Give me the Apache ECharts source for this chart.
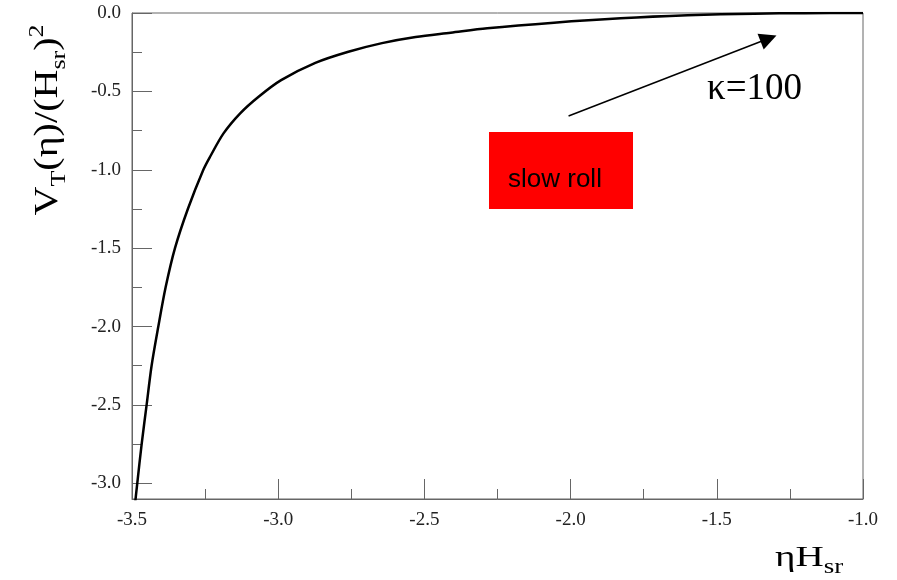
<!DOCTYPE html>
<html>
<head>
<meta charset="utf-8">
<script src="https://cdn.jsdelivr.net/npm/echarts@6/dist/echarts.min.js"></script>
<style>
  html, body { margin: 0; padding: 0; background: #fff; }
  #main { width: 897px; height: 580px; }
</style>
</head>
<body>
<div id="main"></div>
<script>
// curve
var etaH = [-3.489, -3.482, -3.467, -3.450, -3.433, -3.410, -3.385, -3.353, -3.309, -3.256, -3.233, -3.187, -3.130, -3.067, -2.990, -2.873, -2.760, -2.645, -2.530, -2.410, -2.285, -2.057, -1.829, -1.600, -1.372, -1.200, -1.000];
var vT = [-3.120, -3.000, -2.750, -2.500, -2.250, -2.000, -1.750, -1.500, -1.250, -1.000, -0.917, -0.768, -0.640, -0.534, -0.428, -0.318, -0.247, -0.192, -0.153, -0.126, -0.098, -0.062, -0.034, -0.015, -0.004, -0.001, 0.0];
var yMajor = [-3.0, -2.5, -2.0, -1.5, -1.0, -0.5, 0.0];
var yMinor = [-2.75, -2.25, -1.75, -1.25, -0.75, -0.25];
var arrowFrom = [-2.007, -0.657];
var arrowTo = [-1.323, -0.163];

var myChart = echarts.init(document.getElementById('main'));
var serif = '"Liberation Serif", "Times New Roman", serif';

var pts = [];
for (var i = 0; i < etaH.length; i++) pts.push([etaH[i], vT[i]]);

option = {
    animation: false,
    grid: {
        left: 132, right: 34, top: 13, bottom: 81,
        show: true, borderColor: '#666', borderWidth: 1
    },
    xAxis: {
        type: 'value',
        min: -3.5, max: -1.0, interval: 0.5,
        axisLine: { onZero: false, lineStyle: { color: '#666', width: 1 } },
        axisTick: { inside: true, length: 20, lineStyle: { color: '#666' } },
        minorTick: { show: true, splitNumber: 2, length: 10, lineStyle: { color: '#666' } },
        splitLine: { show: false },
        axisLabel: {
            margin: 12, color: '#222', fontFamily: serif, fontSize: 19,
            formatter: function (v) { return v.toFixed(1); }
        }
    },
    yAxis: [
        {
            type: 'value',
            min: -3.1, max: 0,
            axisLine: { show: true, onZero: false, lineStyle: { color: '#666', width: 1 } },
            axisTick: { show: true, inside: true, length: 20, customValues: yMajor, lineStyle: { color: '#666' } },
            splitLine: { show: false },
            axisLabel: {
                customValues: yMajor,
                margin: 11, color: '#222', fontFamily: serif, fontSize: 19,
                formatter: function (v) { return v.toFixed(1); }
            }
        },
        {
            type: 'value',
            position: 'left',
            min: -3.1, max: 0,
            axisLine: { show: false, onZero: false },
            axisTick: { show: true, inside: true, length: 10, customValues: yMinor, lineStyle: { color: '#666' } },
            axisLabel: { show: false },
            splitLine: { show: false }
        }
    ],
    series: [
        {
            type: 'line',
            data: pts,
            smooth: 0.3,
            showSymbol: false,
            lineStyle: { color: '#000', width: 2.5 },
            markLine: {
                silent: true,
                symbol: ['none', 'triangle'],
                symbolSize: 17,
                label: { show: false },
                lineStyle: { color: '#000', width: 1.5, type: 'solid' },
                itemStyle: { color: '#000' },
                emphasis: { disabled: true },
                data: [[{ coord: arrowFrom }, { coord: arrowTo }]]
            }
        }
    ],
    graphic: [
        {
            type: 'text', x: 48, y: 120, rotation: Math.PI / 2, scaleX: 1.18,
            style: {
                text: '{n|V}{sub|T}{n|(η)/(H}{sub|sr}{n|)}{sup|2}',
                align: 'center', verticalAlign: 'middle',
                fill: '#000',
                rich: {
                    n: { fontFamily: serif, fontSize: 34, lineHeight: 44, fill: '#000' },
                    sub: { fontFamily: serif, fontSize: 22, lineHeight: 18, verticalAlign: 'bottom', fill: '#000' },
                    sup: { fontFamily: serif, fontSize: 22, lineHeight: 18, verticalAlign: 'top', fill: '#000' }
                }
            }
        },
        {
            type: 'text', x: 775, y: 558, scaleX: 1.35,
            style: {
                text: '{n|ηH}{sub|sr}',
                align: 'left', verticalAlign: 'middle',
                rich: {
                    n: { fontFamily: serif, fontSize: 29, lineHeight: 40, fill: '#000' },
                    sub: { fontFamily: serif, fontSize: 20, lineHeight: 16, verticalAlign: 'bottom', fill: '#000' }
                }
            }
        },
        {
            type: 'text', x: 707, y: 89,
            style: {
                text: 'κ=100', fontFamily: serif, fontSize: 37,
                align: 'left', verticalAlign: 'middle', fill: '#000'
            }
        },
        {
            type: 'rect',
            shape: { x: 489, y: 132, width: 144, height: 77 },
            style: { fill: '#ff0000' }
        },
        {
            type: 'text', x: 508, y: 180,
            style: {
                text: 'slow roll', fontFamily: '"Liberation Sans", Arial, sans-serif', fontSize: 26,
                align: 'left', verticalAlign: 'middle', fill: '#000'
            }
        }
    ]
};

myChart.setOption(option);
</script>
</body>
</html>
